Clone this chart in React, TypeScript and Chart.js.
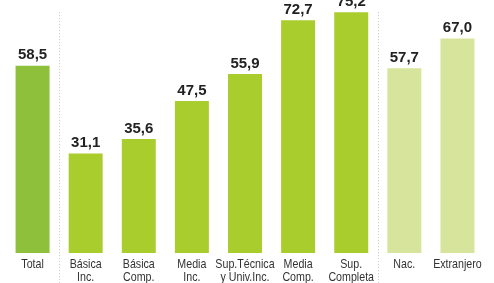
import React, { useEffect, useRef } from "react";
import { Chart, registerables } from "chart.js";

Chart.register(...registerables);

const categories: string[][] = [
  ["Total"],
  ["Básica", "Inc."],
  ["Básica", "Comp."],
  ["Media", "Inc."],
  ["Sup.Técnica", "y Univ.Inc."],
  ["Media", "Comp."],
  ["Sup.", "Completa"],
  ["Nac."],
  ["Extranjero"],
];
const values: number[] = [58.5, 31.1, 35.6, 47.5, 55.9, 72.7, 75.2, 57.7, 67.0];
const valueLabels: string[] = ["58,5", "31,1", "35,6", "47,5", "55,9", "72,7", "75,2", "57,7", "67,0"];
const barColors: string[] = [
  "#8fc03c",
  "#aacd2e",
  "#aacd2e",
  "#aacd2e",
  "#aacd2e",
  "#aacd2e",
  "#aacd2e",
  "#d7e59c",
  "#d7e59c",
];
const dividerAfter: number[] = [0, 6];

const valueLabelPlugin = {
  id: "valueLabels",
  afterDatasetsDraw(chart: any) {
    const ctx = chart.ctx;
    const meta = chart.getDatasetMeta(0);
    ctx.save();
    ctx.font = "bold 15px 'Liberation Sans', Arial, sans-serif";
    ctx.fillStyle = "#222";
    ctx.textAlign = "center";
    ctx.textBaseline = "bottom";
    meta.data.forEach((bar: any, i: number) => {
      ctx.fillText(valueLabels[i], bar.x, bar.y - 3);
    });
    ctx.restore();
  },
};

const categoryLabelPlugin = {
  id: "categoryLabels",
  afterDraw(chart: any) {
    const ctx = chart.ctx;
    const xs = chart.scales.x;
    const bottom = chart.chartArea.bottom;
    const sx = 0.82;
    ctx.save();
    ctx.font = "13px 'Liberation Sans', Arial, sans-serif";
    ctx.fillStyle = "#333";
    ctx.textAlign = "center";
    ctx.textBaseline = "middle";
    categories.forEach((lines, i) => {
      const x = xs.getPixelForValue(i);
      lines.forEach((line, j) => {
        ctx.save();
        ctx.translate(x, bottom + 11 + j * 13);
        ctx.scale(sx, 1);
        ctx.fillText(line, 0, 0);
        ctx.restore();
      });
    });
    ctx.restore();
  },
};

const dividerPlugin = {
  id: "dividers",
  afterDraw(chart: any) {
    const ctx = chart.ctx;
    const xs = chart.scales.x;
    const ys = chart.scales.y;
    ctx.save();
    ctx.strokeStyle = "#c4c4c4";
    ctx.lineWidth = 1;
    ctx.setLineDash([1, 2]);
    dividerAfter.forEach((i) => {
      const x = Math.round((xs.getPixelForValue(i) + xs.getPixelForValue(i + 1)) / 2) + 0.5;
      ctx.beginPath();
      ctx.moveTo(x, ys.getPixelForValue(75.2));
      ctx.lineTo(x, chart.height);
      ctx.stroke();
    });
    ctx.restore();
  },
};

export default function App() {
  const ref = useRef<HTMLCanvasElement>(null);
  useEffect(() => {
    if (!ref.current) return;
    const chart = new Chart(ref.current, {
      type: "bar",
      data: {
        labels: categories.map((c) => c.join(" ")),
        datasets: [
          {
            data: values,
            backgroundColor: barColors,
            barPercentage: 0.64,
            categoryPercentage: 1,
          },
        ],
      },
      options: {
        animation: false,
        responsive: false,
        maintainAspectRatio: false,
        layout: { padding: { left: 6, right: 10, top: 0, bottom: 30 } },
        plugins: { legend: { display: false }, tooltip: { enabled: false } },
        scales: {
          x: { display: false },
          y: { display: false, min: 0, max: 79 },
        },
      },
      plugins: [valueLabelPlugin, categoryLabelPlugin, dividerPlugin],
    });
    return () => chart.destroy();
  }, []);
  return (
    <div style={{ position: "absolute", left: 0, top: 0, width: 494, height: 283, background: "#fff" }}>
      <canvas ref={ref} width={494} height={283} style={{ width: 494, height: 283 }} />
    </div>
  );
}
